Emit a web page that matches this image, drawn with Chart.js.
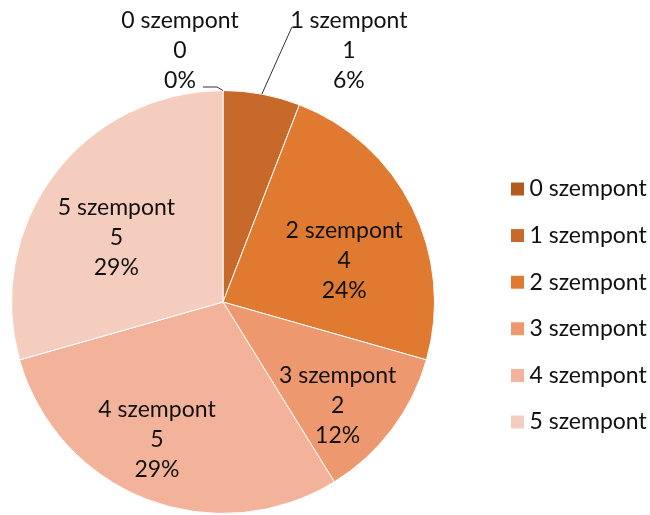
<!DOCTYPE html>
<html><head><meta charset="utf-8">
<script src="https://cdn.jsdelivr.net/npm/chart.js@4"></script>
<style>html,body{margin:0;padding:0;background:#fff;}</style>
</head><body>
<canvas id="c" width="650" height="515"></canvas>
<script>
const categories = ['0 szempont','1 szempont','2 szempont','3 szempont','4 szempont','5 szempont'];
const values = [0, 1, 4, 2, 5, 5];
const colors = ['#B55A1F','#C8692C','#E07A31','#EE9870','#F2B39A','#F5CDBE'];

// label placement (styling only): inside labels use an angle tweak + radius fraction,
// outside labels use an offset from the slice's outer edge plus a leader line
const labelPlacement = [
  {outside:true, dx:-43, dy:-40, elbow:[-6,-3.5], end:[-20,-3.5]},
  {outside:true, dx:87, dy:-44, elbow:[30,-67], end:[41,-67]},
  {angle:7.8, frac:0.605},
  {angle:5, frac:0.73},
  {angle:4.4, frac:0.723},
  {angle:-5.8, frac:0.59}
];

const FONT = '23px Lato';

const sliceLabels = {
  id: 'sliceLabels',
  afterDatasetsDraw(chart) {
    const ctx = chart.ctx;
    const meta = chart.getDatasetMeta(0);
    const total = values.reduce((a, b) => a + b, 0);
    ctx.save();
    ctx.font = FONT;
    ctx.fillStyle = '#111';
    ctx.textAlign = 'center';
    ctx.textBaseline = 'middle';
    meta.data.forEach((arc, i) => {
      const {x, y, startAngle, endAngle, outerRadius} =
        arc.getProps(['x','y','startAngle','endAngle','outerRadius'], true);
      const mid = (startAngle + endAngle) / 2;
      const p = labelPlacement[i];
      const lines = [categories[i], String(values[i]), Math.round(values[i] / total * 100) + '%'];
      let cx, cy;
      if (p.outside) {
        const ax = x + Math.cos(mid) * outerRadius;
        const ay = y + Math.sin(mid) * outerRadius;
        ctx.beginPath();
        ctx.moveTo(ax, ay);
        ctx.lineTo(ax + p.elbow[0], ay + p.elbow[1]);
        ctx.lineTo(ax + p.end[0], ay + p.end[1]);
        ctx.strokeStyle = '#333';
        ctx.lineWidth = 1;
        ctx.stroke();
        cx = ax + p.dx; cy = ay + p.dy;
      } else {
        const a = mid + p.angle * Math.PI / 180;
        const r = outerRadius * p.frac;
        cx = x + Math.cos(a) * r; cy = y + Math.sin(a) * r;
      }
      lines.forEach((t, k) => ctx.fillText(t, cx, cy + (k - 1) * 30));
    });
    ctx.restore();
  }
};

const legendPlace = {
  id: 'legendPlace',
  afterLayout(chart) {
    const L = chart.legend;
    L.left = 493.4; L.top = 153.9; L.right = 650; L.bottom = 515;
    L.width = L.right - L.left; L.height = L.bottom - L.top;
  }
};

new Chart(document.getElementById('c'), {
  type: 'pie',
  data: {
    labels: categories,
    datasets: [{
      data: values,
      backgroundColor: colors,
      borderColor: '#ffffff',
      borderWidth: 1
    }]
  },
  options: {
    responsive: false,
    animation: false,
    devicePixelRatio: 1,
    events: [],
    layout: {padding: {left: 11, top: 90, right: 215, bottom: 1}},
    plugins: {
      tooltip: {enabled: false},
      legend: {
        display: true,
        position: 'chartArea',
        align: 'start',
        labels: {
          font: {family: 'Lato', size: 23},
          color: '#111',
          usePointStyle: true,
          pointStyle: 'rect',
          boxWidth: 1,
          boxHeight: 14,
          padding: 23.6
        }
      }
    }
  },
  plugins: [sliceLabels, legendPlace]
});
</script>
</body></html>
